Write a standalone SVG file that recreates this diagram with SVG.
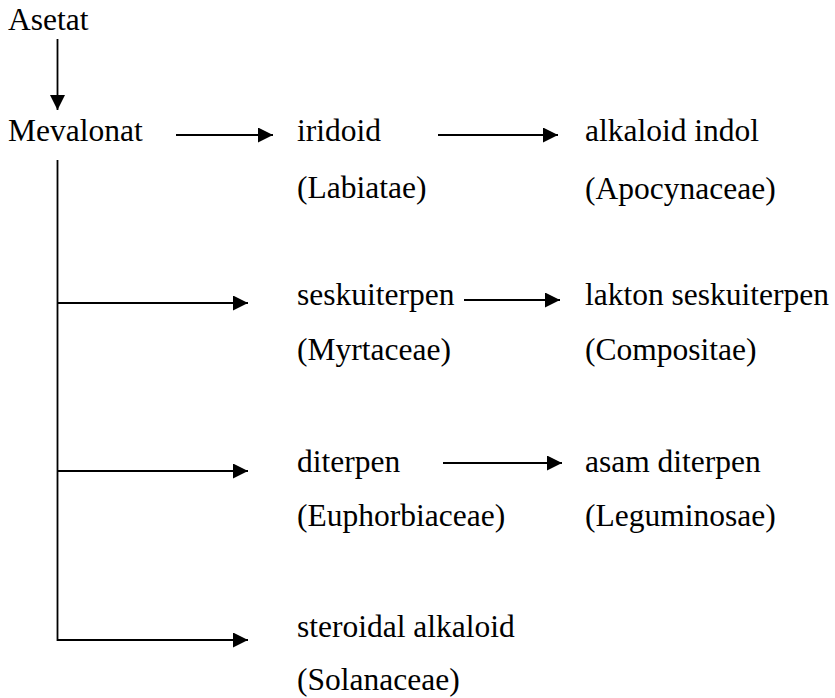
<svg xmlns="http://www.w3.org/2000/svg" width="835" height="698" viewBox="0 0 835 698">
<style>
.c{stroke:#000;stroke-width:1.8;fill:none}
</style>
<defs>
<marker id="ah" markerUnits="userSpaceOnUse" markerWidth="16" markerHeight="16" refX="15" refY="7.5" orient="auto">
<path d="M0,0 L15,7.5 L0,15 z" fill="#000"/>
</marker>
</defs>
<rect width="835" height="698" fill="#fff"/>
<g id="connectors">
<line class="c" x1="57.5" y1="39" x2="57.5" y2="110" marker-end="url(#ah)"/>
<line class="c" x1="176" y1="135" x2="273" y2="135" marker-end="url(#ah)"/>
<line class="c" x1="438" y1="135" x2="558" y2="135" marker-end="url(#ah)"/>
<polyline class="c" points="57.5,160 57.5,640 248,640" marker-end="url(#ah)"/>
<line class="c" x1="57.5" y1="303" x2="248" y2="303" marker-end="url(#ah)"/>
<line class="c" x1="57.5" y1="471" x2="248" y2="471" marker-end="url(#ah)"/>
<line class="c" x1="464" y1="300" x2="560" y2="300" marker-end="url(#ah)"/>
<line class="c" x1="443" y1="463" x2="562" y2="463" marker-end="url(#ah)"/>
</g>
<g id="nodes" font-family="Liberation Serif" font-size="31.5" fill="#000">
<g id="asetat"><text x="8" y="30">Asetat</text></g>
<g id="mevalonat"><text x="8" y="141">Mevalonat</text></g>
<g id="iridoid"><text x="297" y="141">iridoid</text><text x="297" y="198">(Labiatae)</text></g>
<g id="alkaloid-indol"><text x="585" y="141">alkaloid indol</text><text x="585" y="199">(Apocynaceae)</text></g>
<g id="seskuiterpen"><text x="297" y="305">seskuiterpen</text><text x="297" y="360">(Myrtaceae)</text></g>
<g id="lakton-seskuiterpen"><text x="585" y="305">lakton seskuiterpen</text><text x="585" y="360">(Compositae)</text></g>
<g id="diterpen"><text x="297" y="472">diterpen</text><text x="297" y="526">(Euphorbiaceae)</text></g>
<g id="asam-diterpen"><text x="585" y="472">asam diterpen</text><text x="585" y="526">(Leguminosae)</text></g>
<g id="steroidal-alkaloid"><text x="297" y="637">steroidal alkaloid</text><text x="297" y="690">(Solanaceae)</text></g>
</g>
</svg>
